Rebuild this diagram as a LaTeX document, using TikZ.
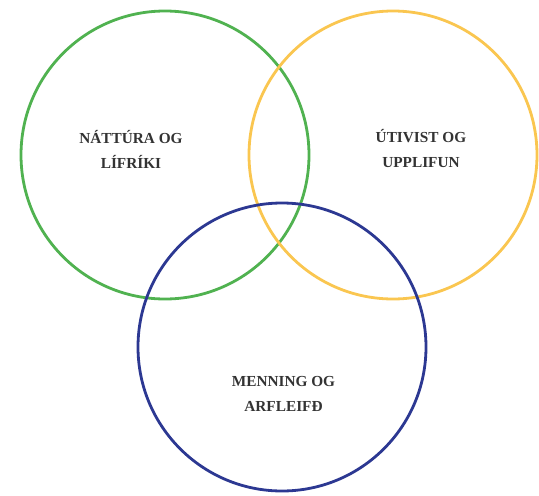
\documentclass[tikz,border=0pt]{standalone}
\usepackage{fontspec}
\setmainfont{Liberation Serif}
\definecolor{cgreen}{RGB}{80,178,80}
\definecolor{cyellow}{RGB}{250,198,80}
\definecolor{cblue}{RGB}{44,56,146}
\begin{document}
\begin{tikzpicture}[x=1pt,y=-1pt,
  ring/.style={circle, draw=#1, line width=2.8pt, inner sep=0pt, minimum size=288pt},
  lbl/.style={font=\fontsize{15.3}{25}\selectfont\bfseries, text=black!80, align=center}]
\useasboundingbox (0,0) rectangle (539,496);
\node[ring=cgreen] (green) at (165,155) {};
\node[ring=cyellow] (yellow) at (393,155) {};
\node[ring=cblue] (blue) at (282,347) {};
\node[lbl] (t1) at (131,149) {NÁTTÚRA OG\\LÍFRÍKI};
\node[lbl] (t2) at (421,149) {ÚTIVIST OG\\UPPLIFUN};
\node[lbl] (t3) at (283.5,394) {MENNING OG\\ARFLEIFÐ};
\end{tikzpicture}
\end{document}
